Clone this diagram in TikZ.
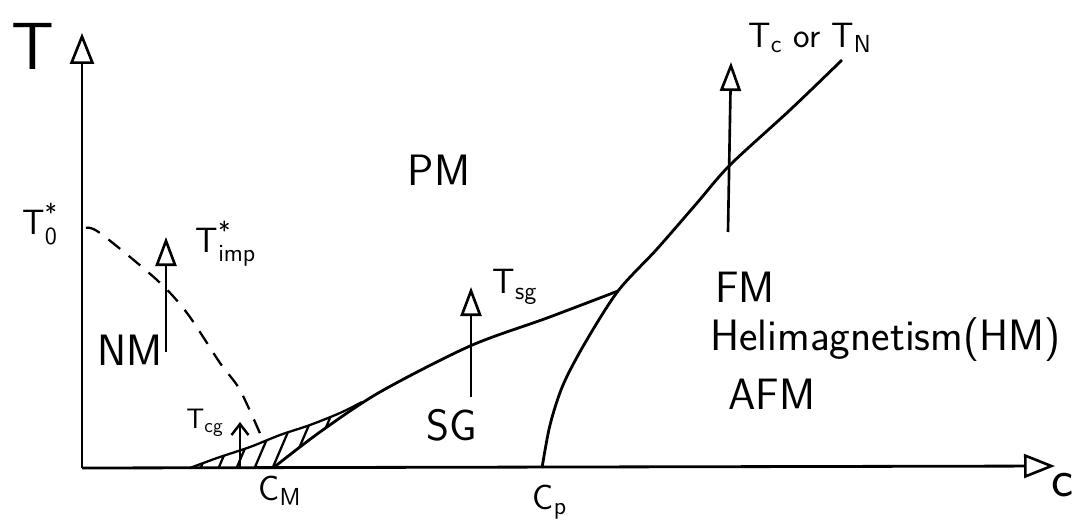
\documentclass[tikz,border=0pt]{standalone}
\usepackage{amsmath}
\usepackage{fontspec}
\usepackage{tikz}
\usetikzlibrary{arrows.meta}

\newcommand{\sub}[1]{$_{\text{\sffamily #1}}$}

\tikzset{
    axis/.style={line width=1.6pt, -{Triangle[open,length=0.62cm,width=0.48cm,line width=1.5pt]}},
    rise/.style={line width=1.5pt, -{Triangle[open,length=0.58cm,width=0.42cm,line width=1.5pt]}},
    smallrise/.style={line width=1.4pt, -{Straight Barb[length=0.22cm,width=0.34cm,line width=1.4pt]}},
    phase/.style={line width=1.6pt},
    crossover/.style={line width=1.3pt, dash pattern=on 0.3cm off 0.22cm},
    region/.style={font=\sffamily\fontsize{25}{28}\selectfont, inner sep=0pt},
    temp/.style={font=\sffamily\fontsize{20}{22}\selectfont, inner sep=0pt}
}

\begin{document}
\begin{tikzpicture}[x=0.02cm, y=-0.02cm]
    \useasboundingbox (0,0) rectangle (1089,525);

    % axes
    \coordinate (O) at (82,468);
    \coordinate (Ttip) at (82,33);
    \coordinate (ctip) at (1055,466);
    \draw[axis] (O) -- (Ttip);
    \draw[axis] (O) -- (ctip);

    \node[region, font=\sffamily\fontsize{38}{40}\selectfont] (Tlab) at (33,46) {T};
    \node[region, font=\sffamily\fontsize{30}{32}\selectfont] (clab) at (1063,485) {c};
    \node[temp] (Cm) at (280,491) {C\sub{M}};
    \node[temp] (Cp) at (550,502) {C\sub{p}};

    % hatched region near C_M
    \begin{scope}
        \clip plot[smooth] coordinates {(190,468) (217,458) (250,447) (280,435) (310,425) (340,413) (362,402)}
            -- plot[smooth] coordinates {(362,402) (320,432) (273,468)} -- cycle;
        \foreach \x in {180,198,...,370}
            \draw[line width=1.3pt] (\x,474) -- ({\x+24},418);
    \end{scope}
    \draw[line width=1.3pt] plot[smooth] coordinates {(190,468) (217,458) (250,447) (280,435) (310,425) (340,413) (362,402)};

    % phase boundaries
    \draw[crossover] plot[smooth] coordinates {(86,228) (100,233) (157,280) (187,313) (220,363) (240,390) (262,438)};
    \draw[phase] plot[smooth] coordinates {(273,468) (320,432) (380,392) (470,346) (547,318) (618,291)};
    \draw[phase] plot[smooth] coordinates {(542,468) (550,425) (563,385) (585,343) (618,291) (657,249) (697,203) (730,165) (790,110) (842,60)};

    % temperature arrows
    \coordinate (impB) at (166,352);
    \coordinate (impT) at (166,237);
    \coordinate (cgB) at (240,468);
    \coordinate (cgT) at (240,422);
    \coordinate (sgB) at (471,397);
    \coordinate (sgT) at (471,287);
    \coordinate (tcB) at (728,232);
    \coordinate (tcT) at (731,62);
    \draw[rise] (impB) -- (impT);
    \draw[smallrise] (cgB) -- (cgT);
    \draw[rise] (sgB) -- (sgT);
    \draw[rise] (tcB) -- (tcT);

    \node[temp] (T0) at (40,224) {T$_{\text{\sffamily 0}}^{\text{*}}$};
    \node[temp] (Timp) at (226,244) {T$_{\text{\sffamily imp}}^{\text{*}}$};
    \node[temp, font=\sffamily\fontsize{16}{18}\selectfont] (Tcg) at (205,423) {T\sub{cg}};
    \node[temp] (Tsg) at (515,287) {T\sub{sg}};
    \node[temp] (TcN) at (810,38) {T\sub{c} or T\sub{N}};

    % phases
    \node[region] (PM) at (439,170) {PM};
    \node[region] (NM) at (130,350) {NM};
    \node[region] (SG) at (452,425) {SG};
    \node[region, anchor=base west] (FM) at (715,302) {FM};
    \node[region, anchor=base west] (HM) at (710,350) {Helimagnetism(HM)};
    \node[region, anchor=base west] (AFM) at (728,409) {AFM};
\end{tikzpicture}
\end{document}
